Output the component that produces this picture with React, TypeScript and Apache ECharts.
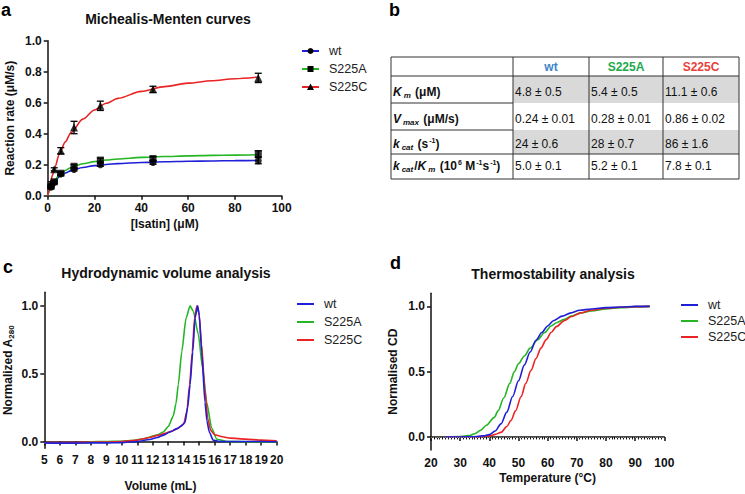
import React, { useEffect, useRef } from "react";
import * as echarts from "echarts";

const FONT = "'Liberation Sans', Arial, sans-serif";
const BLUE = "#1f1fd8";
const GREEN = "#25b525";
const RED = "#ea2424";

// ---- Panel a: Michaelis-Menten ----
const isatinConc = [1.4, 2.8, 5.6, 11.25, 22.5, 45, 90];
const wtRate = [0.055, 0.085, 0.14, 0.17, 0.2, 0.215, 0.226];
const wtErr = [0.006, 0.008, 0.01, 0.01, 0.01, 0.012, 0.02];
const s225aRate = [0.06, 0.09, 0.145, 0.19, 0.23, 0.24, 0.27];
const s225aErr = [0.006, 0.008, 0.01, 0.01, 0.012, 0.012, 0.02];
const s225cRate = [0.08, 0.17, 0.29, 0.44, 0.58, 0.686, 0.76];
const s225cErr = [0.01, 0.01, 0.02, 0.04, 0.03, 0.02, 0.03];

const fitConc = [0, 1, 2, 3, 5, 7.5, 10, 15, 20, 25, 30, 40, 50, 60, 70, 80, 90];
const wtFit = [0, 0.041, 0.071, 0.092, 0.122, 0.146, 0.162, 0.182, 0.194, 0.201, 0.207, 0.214, 0.219, 0.222, 0.224, 0.226, 0.227];
const s225aFit = [0, 0.044, 0.076, 0.1, 0.135, 0.163, 0.182, 0.206, 0.22, 0.23, 0.237, 0.247, 0.253, 0.257, 0.26, 0.262, 0.265];
const s225cFit = [0, 0.071, 0.131, 0.183, 0.267, 0.347, 0.408, 0.494, 0.553, 0.596, 0.628, 0.673, 0.704, 0.726, 0.742, 0.755, 0.766];

// ---- Panel b: kinetic table ----
const tableVariants = ["wt", "S225A", "S225C"];
const tableKm = ["4.8 ± 0.5", "5.4 ± 0.5", "11.1 ± 0.6"];
const tableVmax = ["0.24 ± 0.01", "0.28 ± 0.01", "0.86 ± 0.02"];
const tableKcat = ["24 ± 0.6", "28 ± 0.7", "86 ± 1.6"];
const tableKcatKm = ["5.0 ± 0.1", "5.2 ± 0.1", "7.8 ± 0.1"];

// ---- Panel c: SEC elution ----
const secWt: number[][] = [[5,-0.01],[6,-0.012],[7,-0.012],[8,-0.01],[9,-0.01],[10,-0.008],[11,0.0],[11.8,0.015],[12.3,0.03],[12.7,0.047],[13.1,0.07],[13.55,0.095],[13.85,0.115],[14.08,0.14],[14.25,0.25],[14.41,0.42],[14.58,0.66],[14.73,0.91],[14.9,1.0],[15.0,0.93],[15.16,0.66],[15.37,0.29],[15.5,0.15],[15.65,0.07],[15.9,0.01],[16.3,0.0],[17,0.0],[18,0.0],[19,0.0],[20,-0.002]];
const secS225A: number[][] = [[5,-0.01],[6,-0.01],[7,-0.01],[7.8,-0.008],[8,-0.002],[9,0.0],[10,0.002],[10.6,0.007],[11.4,0.02],[12.26,0.047],[12.68,0.07],[13.0,0.11],[13.33,0.19],[13.5,0.28],[13.65,0.42],[13.87,0.66],[14.15,0.91],[14.41,1.0],[14.62,0.96],[14.94,0.79],[15.22,0.54],[15.48,0.29],[15.8,0.1],[16.13,0.017],[16.78,0.0],[18,-0.002],[20,-0.003]];
const secS225C: number[][] = [[5,-0.008],[6,-0.008],[7,-0.008],[8,-0.005],[9,-0.004],[10,0.0],[11,0.01],[11.8,0.03],[12.3,0.045],[12.8,0.06],[13.2,0.075],[13.6,0.095],[14.0,0.13],[14.2,0.22],[14.38,0.42],[14.55,0.66],[14.7,0.91],[14.85,1.0],[14.98,0.95],[15.15,0.72],[15.35,0.4],[15.55,0.17],[15.75,0.08],[16.0,0.05],[16.5,0.035],[17,0.025],[18,0.018],[19,0.01],[20,0.005]];

// ---- Panel d: thermal melt ----
const meltWt: number[][] = [[25,0],[30,0],[35,0.002],[38,0.008],[40,0.018],[42,0.045],[44,0.1],[46,0.19],[48,0.31],[50,0.43],[52,0.55],[54,0.65],[56,0.74],[58,0.8],[60,0.85],[62,0.89],[65,0.925],[68,0.95],[71,0.97],[75,0.98],[80,0.99],[85,0.995],[90,1.0],[95,1.0]];
const meltS225A: number[][] = [[25,0],[30,0.003],[33,0.01],[35,0.025],[37,0.05],[39,0.09],[41.7,0.15],[43,0.2],[45,0.3],[47,0.41],[48.6,0.5],[50,0.56],[52,0.62],[54,0.68],[56.6,0.745],[59,0.8],[61.2,0.85],[63,0.875],[65.7,0.9],[68,0.925],[71.4,0.95],[75,0.965],[80,0.98],[85,0.99],[90,0.995],[95,1.0]];
const meltS225C: number[][] = [[25,0],[30,0],[35,0],[38,0.005],[40.6,0.01],[42,0.02],[44,0.035],[46,0.08],[47.4,0.126],[49,0.2],[50.9,0.31],[52.5,0.41],[54.3,0.51],[56,0.6],[57.7,0.68],[59.5,0.745],[61.2,0.8],[63,0.845],[65.7,0.89],[68,0.92],[71.4,0.95],[75,0.97],[80,0.985],[85,0.993],[90,0.998],[95,1.0]];

const legendNames = ["wt", "S225A", "S225C"];
const legendColors = [BLUE, GREEN, RED];

function axisBase(extra: any) {
  return {
    type: "value",
    axisLine: { show: true, lineStyle: { color: "#111", width: 1.5 } },
    axisTick: { show: true, length: 4, lineStyle: { color: "#111", width: 1.5 } },
    axisLabel: { color: "#111", fontSize: 12, fontWeight: "bold", fontFamily: FONT, margin: 6 },
    splitLine: { show: false },
    nameLocation: "middle",
    nameTextStyle: { color: "#111", fontSize: 12, fontWeight: "bold", fontFamily: FONT },
    ...extra,
  };
}

function errorBars(rate: number[], err: number[]) {
  return isatinConc.map((c, i) => [c, rate[i] - err[i], rate[i] + err[i]]);
}

function errorSeries(rate: number[], err: number[]) {
  return {
    type: "custom",
    xAxisIndex: 0,
    yAxisIndex: 0,
    silent: true,
    z: 4,
    data: errorBars(rate, err),
    renderItem: (params: any, api: any) => {
      const x = api.value(0);
      const p1 = api.coord([x, api.value(1)]);
      const p2 = api.coord([x, api.value(2)]);
      const w = 3.5;
      const st = { stroke: "#000", lineWidth: 1.3 };
      return {
        type: "group",
        children: [
          { type: "line", shape: { x1: p1[0], y1: p1[1], x2: p2[0], y2: p2[1] }, style: st },
          { type: "line", shape: { x1: p1[0] - w, y1: p1[1], x2: p1[0] + w, y2: p1[1] }, style: st },
          { type: "line", shape: { x1: p2[0] - w, y1: p2[1], x2: p2[0] + w, y2: p2[1] }, style: st },
        ],
      };
    },
  };
}

function legendGraphics(x0: number, ys: number[], withMarkers: boolean) {
  const els: any[] = [];
  ys.forEach((y, i) => {
    els.push({ type: "line", shape: { x1: x0, y1: y, x2: x0 + 17, y2: y }, style: { stroke: legendColors[i], lineWidth: 2 } });
    if (withMarkers) {
      const cx = x0 + 8.5;
      if (i === 0) els.push({ type: "circle", shape: { cx, cy: y, r: 3 }, style: { fill: "#000" } });
      if (i === 1) els.push({ type: "rect", shape: { x: cx - 3, y: y - 3, width: 6, height: 6 }, style: { fill: "#000" } });
      if (i === 2) els.push({ type: "polygon", shape: { points: [[cx, y - 3.5], [cx + 3.5, y + 3], [cx - 3.5, y + 3]] }, style: { fill: "#000" } });
    }
    els.push({
      type: "text",
      x: x0 + 27,
      y,
      style: { text: legendNames[i], fill: "#222", font: `12.5px ${FONT}`, verticalAlign: "middle", align: "left" },
    });
  });
  return els;
}

function tableGraphics() {
  const els: any[] = [];
  const L = 391, R = 739, T = 57, B = 179;
  const cols = [391, 513, 589, 663, 739];
  const rows = [57, 76, 103, 130, 154, 179];
  [1, 3].forEach((r) => {
    els.push({ type: "rect", shape: { x: cols[1], y: rows[r], width: R - cols[1], height: rows[r + 1] - rows[r] }, style: { fill: "#d9d9d9" } });
  });
  const dark = { stroke: "#333", lineWidth: 1 };
  els.push({ type: "rect", shape: { x: L, y: T, width: R - L, height: B - T }, style: { fill: "none", ...dark } });
  cols.slice(1, 4).forEach((c) => els.push({ type: "line", shape: { x1: c, y1: T, x2: c, y2: B }, style: dark }));
  els.push({ type: "line", shape: { x1: L, y1: rows[1], x2: R, y2: rows[1] }, style: dark });
  [2, 3, 4].forEach((r) => els.push({ type: "line", shape: { x1: L, y1: rows[r], x2: cols[1], y2: rows[r] }, style: dark }));
  els.push({ type: "line", shape: { x1: cols[1], y1: rows[4], x2: R, y2: rows[4] }, style: dark });

  const headColors = ["#3d85c6", "#22a94c", "#e8413c"];
  tableVariants.forEach((v, i) => {
    els.push({
      type: "text",
      x: (cols[i + 1] + cols[i + 2]) / 2,
      y: 67,
      style: { text: v, fill: headColors[i], font: `bold 12px ${FONT}`, align: "center", verticalAlign: "middle" },
    });
  });
  const base = { fontFamily: FONT, fontWeight: "bold", fill: "#111", lineHeight: 14 };
  const rich = {
    b: { ...base, fontSize: 12, verticalAlign: "middle" },
    ib: { ...base, fontSize: 12, fontStyle: "italic", verticalAlign: "middle" },
    sub: { ...base, fontSize: 8, fontStyle: "italic", verticalAlign: "bottom", padding: [0, 1, 0, 2] },
    sup: { ...base, fontSize: 7, verticalAlign: "top", padding: [0, 0, 0, 1] },
  };
  const labels = [
    "{ib|K}{sub|m}{b| (μM)}",
    "{ib|V}{sub|max}{b| (μM/s)}",
    "{ib|k}{sub|cat}{b| (s}{sup|-1}{b|)}",
    "{ib|k}{sub|cat}{b|/}{ib|K}{sub|m}{b| (10}{sup|6}{b| M}{sup|-1}{b|s}{sup|-1}{b|)}",
  ];
  const textY = [92, 119, 144, 166];
  const values = [tableKm, tableVmax, tableKcat, tableKcatKm];
  labels.forEach((lab, r) => {
    els.push({ type: "text", x: 393, y: textY[r], style: { text: lab, rich, align: "left", verticalAlign: "middle" } });
    values[r].forEach((val, c) => {
      els.push({
        type: "text",
        x: cols[c + 1] + 2,
        y: textY[r],
        style: { text: val, fill: "#111", font: `12px ${FONT}`, align: "left", verticalAlign: "middle" },
      });
    });
  });
  return els;
}

function letter(t: string, x: number, y: number) {
  return { type: "text", x, y, style: { text: t, fill: "#000", font: `bold 18px ${FONT}`, align: "left", verticalAlign: "top" } };
}

export default function App() {
  const ref = useRef<HTMLDivElement>(null);
  useEffect(() => {
    if (!ref.current) return;
    const chart = echarts.init(ref.current, null, { renderer: "svg" });
    const pair = (xs: number[], ys: number[]) => xs.map((x, i) => [x, ys[i]]);
    const titleStyle = { color: "#111", fontSize: 14, fontWeight: "bold", fontFamily: FONT };
    const lineS = (name: string, data: number[][], color: string, xi: number, extra: any = {}) => ({
      type: "line",
      name,
      xAxisIndex: xi,
      yAxisIndex: xi,
      data,
      showSymbol: false,
      smooth: 0.3,
      smoothMonotone: "x",
      lineStyle: { color, width: 1.6 },
      itemStyle: { color },
      silent: true,
      ...extra,
    });
    const scatterS = (name: string, data: number[][], symbol: string, size: number) => ({
      type: "scatter",
      name,
      xAxisIndex: 0,
      yAxisIndex: 0,
      data,
      symbol,
      symbolSize: size,
      itemStyle: { color: "#000" },
      z: 5,
      silent: true,
    });
    const fmt1 = (v: number) => v.toFixed(1);

    chart.setOption({
      animation: false,
      backgroundColor: "#fff",
      title: [
        { text: "Michealis-Menten curves", left: 163, top: 7, textAlign: "center", textStyle: titleStyle },
        { text: "Hydrodynamic volume analysis", left: 161, top: 261, textAlign: "center", textStyle: titleStyle },
        { text: "Thermostability analysis", left: 548, top: 262, textAlign: "center", textStyle: titleStyle },
      ],
      grid: [
        { left: 47.7, top: 40.7, width: 234, height: 155 },
        { left: 44.3, top: 292.3, width: 232.4, height: 156 },
        { left: 431, top: 293.3, width: 233.3, height: 156.7 },
      ],
      xAxis: [
        axisBase({ gridIndex: 0, min: 0, max: 100, interval: 20, name: "[Isatin] (μM)", nameGap: 22 }),
        axisBase({ gridIndex: 1, min: 5, max: 20, interval: 1, name: "Volume (mL)", nameGap: 32 }),
        axisBase({
          gridIndex: 2, min: 20, max: 100, interval: 10, name: "Temperature (°C)", nameGap: 22,
          minorTick: { show: true, splitNumber: 10, length: 2.5, lineStyle: { color: "#111", width: 1 } },
          axisLabel: { color: "#111", fontSize: 12, fontWeight: "bold", fontFamily: FONT, margin: 7 },
        }),
      ],
      yAxis: [
        axisBase({
          gridIndex: 0, min: 0, max: 1, interval: 0.2, name: "Reaction rate (μM/s)", nameGap: 32,
          axisLabel: { color: "#111", fontSize: 12, fontWeight: "bold", fontFamily: FONT, margin: 6, formatter: fmt1 },
        }),
        axisBase({
          gridIndex: 1, min: -0.05, max: 1.1, nameGap: 29,
          name: "{n|Normalized A}{s|280}",
          nameTextStyle: {
            rich: {
              n: { color: "#111", fontSize: 12, fontWeight: "bold", fontFamily: FONT, lineHeight: 14, verticalAlign: "middle" },
              s: { color: "#111", fontSize: 8, fontWeight: "bold", fontFamily: FONT, lineHeight: 14, verticalAlign: "bottom" },
            },
          },
          axisTick: { show: true, length: 4, lineStyle: { color: "#111", width: 1.5 }, customValues: [0, 0.5, 1] },
          axisLabel: { color: "#111", fontSize: 12, fontWeight: "bold", fontFamily: FONT, margin: 6, customValues: [0, 0.5, 1], formatter: fmt1 },
        }),
        axisBase({
          gridIndex: 2, min: -0.1, max: 1.1, nameGap: 32, name: "Normalised CD",
          axisTick: { show: true, length: 4, lineStyle: { color: "#111", width: 1.5 }, customValues: [0, 0.5, 1] },
          axisLabel: { color: "#111", fontSize: 12, fontWeight: "bold", fontFamily: FONT, margin: 6, customValues: [0, 0.5, 1], formatter: fmt1 },
        }),
      ],
      graphic: {
        elements: [
          letter("a", 1, 1),
          letter("b", 389, 1),
          letter("c", 3, 258),
          letter("d", 390, 254),
          ...legendGraphics(302, [51, 69, 87], true),
          ...legendGraphics(297, [304, 322, 340], false),
          ...legendGraphics(681, [305, 321, 337], false),
          ...tableGraphics(),
        ],
      },
      series: [
        lineS("wt fit", pair(fitConc, wtFit), BLUE, 0),
        lineS("S225A fit", pair(fitConc, s225aFit), GREEN, 0),
        lineS("S225C fit", pair(fitConc, s225cFit), RED, 0),
        errorSeries(wtRate, wtErr),
        errorSeries(s225aRate, s225aErr),
        errorSeries(s225cRate, s225cErr),
        scatterS("wt", pair(isatinConc, wtRate), "circle", 7),
        scatterS("S225A", pair(isatinConc, s225aRate), "rect", 7),
        scatterS("S225C", pair(isatinConc, s225cRate), "triangle", 8),

        lineS("S225A SEC", secS225A, GREEN, 1, { smooth: 0.2 }),
        lineS("S225C SEC", secS225C, RED, 1, { smooth: 0.2 }),
        lineS("wt SEC", secWt, BLUE, 1, { smooth: 0.2 }),

        lineS("S225A melt", meltS225A, GREEN, 2),
        lineS("S225C melt", meltS225C, RED, 2),
        lineS("wt melt", meltWt, BLUE, 2, {
          markLine: {
            silent: true,
            symbol: "none",
            label: { show: false },
            lineStyle: { type: "dotted", color: "#888", width: 1 },
            data: [{ yAxis: 0 }],
          },
        }),
      ],
    });
    return () => chart.dispose();
  }, []);
  return <div ref={ref} style={{ position: "absolute", left: 0, top: 0, width: 745, height: 494 }} />;
}
